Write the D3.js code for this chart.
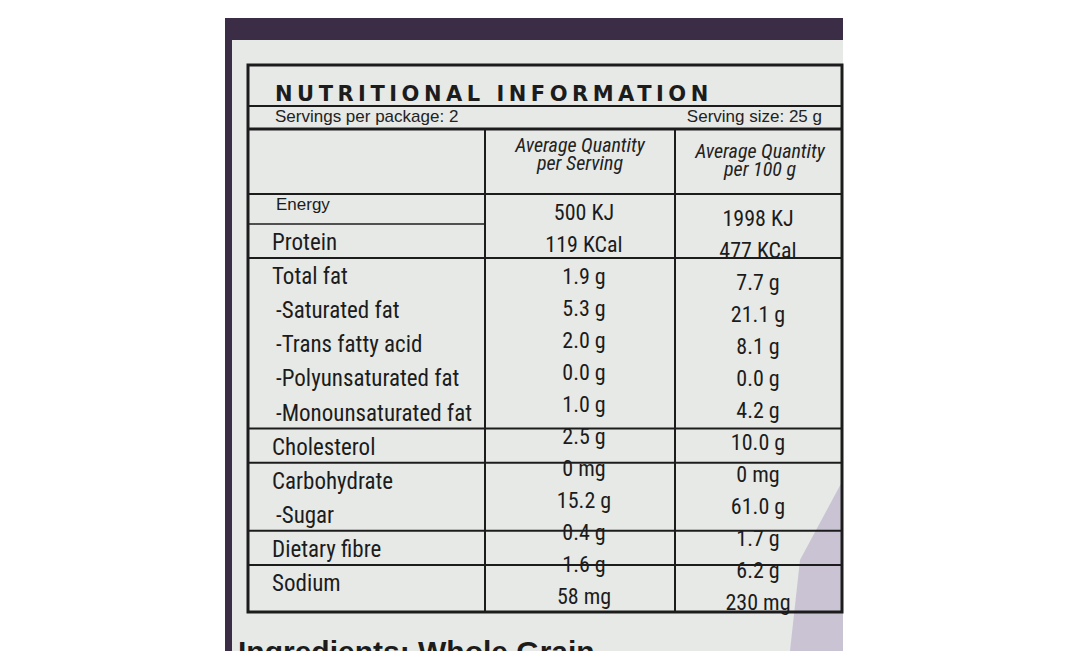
<!DOCTYPE html>
<html><head><meta charset="utf-8">
<script src="https://cdn.jsdelivr.net/npm/d3@7"></script>
<style>body{margin:0;background:#fff}</style></head>
<body><svg id="c" width="1068" height="671"></svg>
<script>
const title = "NUTRITIONAL INFORMATION";
const servingsText = "Servings per package: 2";
const sizeText = "Serving size: 25 g";
const colHeaders = [["Average Quantity","per Serving"],["Average Quantity","per 100 g"]];
const nutrients = ["Energy","Protein","Total fat","-Saturated fat","-Trans fatty acid","-Polyunsaturated fat","-Monounsaturated fat","Cholesterol","Carbohydrate","-Sugar","Dietary fibre","Sodium"];
const perServing = ["500 KJ","119 KCal","1.9 g","5.3 g","2.0 g","0.0 g","1.0 g","2.5 g","0 mg","15.2 g","0.4 g","1.6 g","58 mg"];
const per100g = ["1998 KJ","477 KCal","7.7 g","21.1 g","8.1 g","0.0 g","4.2 g","10.0 g","0 mg","61.0 g","1.7 g","6.2 g","230 mg"];
const dividerAfter = ["Protein","-Monounsaturated fat","Cholesterol","-Sugar","Dietary fibre"];

const svg = d3.select("#c");
const font = "'Liberation Sans Narrow','Roboto Condensed','Liberation Sans',sans-serif";
svg.append("rect").attr("x",225).attr("y",18).attr("width",618).attr("height",633).attr("fill","#3a2d45");
svg.append("path").attr("d","M232,40 L843,40 L843,651 L232,651 Z").attr("fill","#e6e9e6");
svg.append("path").attr("d","M843,480 L800,560 L790,651 L843,651 Z").attr("fill","#c9c3d3");

const bLeft=248,bRight=842,c1=485,c2=675,bTop=65,bBottom=612;
const g = svg.append("g");
g.append("rect").attr("x",bLeft).attr("y",bTop).attr("width",bRight-bLeft).attr("height",bBottom-bTop)
 .attr("fill","none").attr("stroke","#1c1c1c").attr("stroke-width",3);
g.append("text").attr("x",275).attr("y",101).text(title).attr("font-family","'DejaVu Sans',sans-serif")
 .attr("font-weight","bold").attr("font-size",21).attr("letter-spacing",4.5).attr("fill","#1c1c1c");
g.append("line").attr("x1",bLeft).attr("x2",bRight).attr("y1",106).attr("y2",106).attr("stroke","#1c1c1c").attr("stroke-width",2);
g.append("text").attr("x",275).attr("y",122).text(servingsText).attr("font-family","'Liberation Sans',sans-serif").attr("font-size",17).attr("fill","#222");
g.append("text").attr("x",822).attr("y",122).attr("text-anchor","end").text(sizeText).attr("font-family","'Liberation Sans',sans-serif").attr("font-size",17).attr("fill","#222");
g.append("line").attr("x1",bLeft).attr("x2",bRight).attr("y1",129).attr("y2",129).attr("stroke","#1c1c1c").attr("stroke-width",3);
[c1,c2].forEach(x=>g.append("line").attr("x1",x).attr("x2",x).attr("y1",129).attr("y2",bBottom).attr("stroke","#1c1c1c").attr("stroke-width",2));
g.append("line").attr("x1",bLeft).attr("x2",bRight).attr("y1",194).attr("y2",194).attr("stroke","#1c1c1c").attr("stroke-width",2);
colHeaders.forEach((h,i)=>{
  const cx = i?760:580;
  h.forEach((t,j)=>g.append("text").attr("x",cx).attr("y",152+j*18+(i?6:0)).attr("text-anchor","middle").text(t)
    .attr("font-family",font).attr("font-style","italic").attr("font-size",20).attr("fill","#222"));
});
const yL = d3.scalePoint().domain(nutrients).range([210,585]);
const yV = d3.scalePoint().domain(d3.range(perServing.length)).range([220,604]);
g.selectAll("text.lab").data(nutrients).join("text").attr("class","lab")
 .attr("x",d=>d.startsWith("-")||d==="Energy"?276:272).attr("y",d=>yL(d)+(d==="Energy"?0:6))
 .attr("font-size",d=>d==="Energy"?17:23).attr("font-family",d=>d==="Energy"?"'Liberation Sans',sans-serif":font)
 .attr("fill","#1c1c1c").text(d=>d);
g.selectAll("text.v1").data(perServing).join("text").attr("class","v1")
 .attr("x",584).attr("y",(d,i)=>yV(i)).attr("text-anchor","middle").attr("font-size",22).attr("font-family",font).attr("fill","#1c1c1c").text(d=>d);
g.selectAll("text.v2").data(per100g).join("text").attr("class","v2")
 .attr("x",758).attr("y",(d,i)=>yV(i)+6).attr("text-anchor","middle").attr("font-size",22).attr("font-family",font).attr("fill","#1c1c1c").text(d=>d);
g.selectAll("line.div").data(dividerAfter).join("line").attr("class","div")
 .attr("x1",bLeft).attr("x2",bRight).attr("y1",d=>yL(d)+14).attr("y2",d=>yL(d)+14).attr("stroke","#1c1c1c").attr("stroke-width",2);
g.append("line").attr("x1",bLeft).attr("x2",c1).attr("y1",yL("Protein")-20).attr("y2",yL("Protein")-20).attr("stroke","#1c1c1c").attr("stroke-width",1.5);
svg.append("text").attr("x",238).attr("y",662).text("Ingredients: Whole Grain").attr("font-family","'Liberation Sans',sans-serif")
 .attr("font-weight","bold").attr("font-size",30).attr("fill","#1c1c1c");
svg.append("rect").attr("x",0).attr("y",651).attr("width",1068).attr("height",20).attr("fill","#fff");
</script></body></html>
